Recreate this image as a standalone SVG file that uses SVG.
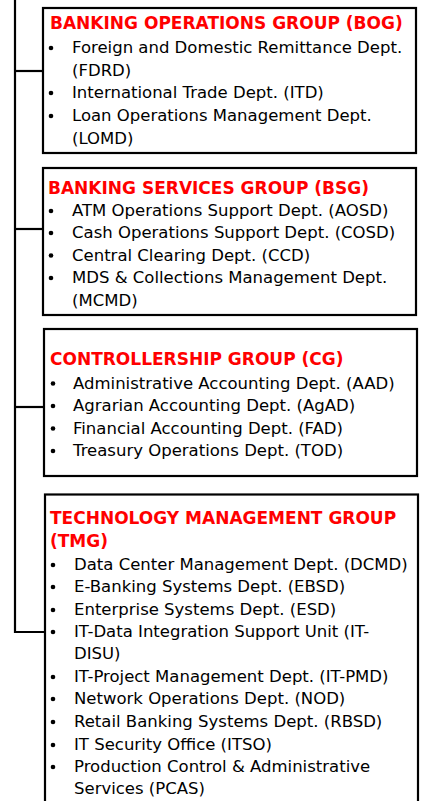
<svg xmlns="http://www.w3.org/2000/svg" width="425" height="801" viewBox="0 0 425 801">
<style>
.box{fill:#fff;stroke:#000;stroke-width:2.2}
.conn{fill:none;stroke:#000;stroke-width:2.2}
.t{font-family:"DejaVu Sans",Verdana,sans-serif;font-size:17px;font-weight:bold;fill:#ff0000}
.i{font-family:"DejaVu Sans",Verdana,sans-serif;font-size:16.5px;fill:#000}
.b{fill:#000}
</style>
<rect width="425" height="801" fill="#fff"/>
<g id="connectors">
<path class="conn" d="M15,0 V632 H45"/>
<path class="conn" d="M15,71 H43"/>
<path class="conn" d="M15,229 H43"/>
<path class="conn" d="M15,407 H44"/>
</g>
<g id="bog">
<rect class="box" x="43" y="8" width="373" height="145"/>
<text class="t" x="50" y="29">BANKING OPERATIONS GROUP (BOG)</text>
<circle class="b" cx="51" cy="48" r="2.3"/>
<text class="i" x="72" y="53">Foreign and Domestic Remittance Dept.</text>
<text class="i" x="72" y="75.5">(FDRD)</text>
<circle class="b" cx="51" cy="93" r="2.3"/>
<text class="i" x="72" y="98">International Trade Dept. (ITD)</text>
<circle class="b" cx="51" cy="116" r="2.3"/>
<text class="i" x="72" y="121">Loan Operations Management Dept.</text>
<text class="i" x="72" y="143.5">(LOMD)</text>
</g>
<g id="bsg">
<rect class="box" x="43" y="168" width="373" height="147"/>
<text class="t" x="48" y="193.5">BANKING SERVICES GROUP (BSG)</text>
<circle class="b" cx="51" cy="211" r="2.3"/>
<text class="i" x="72" y="216">ATM Operations Support Dept. (AOSD)</text>
<circle class="b" cx="51" cy="233" r="2.3"/>
<text class="i" x="72" y="238">Cash Operations Support Dept. (COSD)</text>
<circle class="b" cx="51" cy="255.5" r="2.3"/>
<text class="i" x="72" y="260.5">Central Clearing Dept. (CCD)</text>
<circle class="b" cx="51" cy="278" r="2.3"/>
<text class="i" x="72" y="283">MDS &amp; Collections Management Dept.</text>
<text class="i" x="72" y="306">(MCMD)</text>
</g>
<g id="cg">
<rect class="box" x="44" y="329" width="373" height="147"/>
<text class="t" x="50" y="364.5">CONTROLLERSHIP GROUP (CG)</text>
<circle class="b" cx="53" cy="383.5" r="2.3"/>
<text class="i" x="73" y="388.5">Administrative Accounting Dept. (AAD)</text>
<circle class="b" cx="53" cy="406" r="2.3"/>
<text class="i" x="73" y="411">Agrarian Accounting Dept. (AgAD)</text>
<circle class="b" cx="53" cy="428.5" r="2.3"/>
<text class="i" x="73" y="433.5">Financial Accounting Dept. (FAD)</text>
<circle class="b" cx="53" cy="451" r="2.3"/>
<text class="i" x="73" y="456">Treasury Operations Dept. (TOD)</text>
</g>
<g id="tmg">
<rect class="box" x="45" y="494.5" width="373" height="320"/>
<text class="t" x="50" y="523.5">TECHNOLOGY MANAGEMENT GROUP</text>
<text class="t" x="50" y="546.5">(TMG)</text>
<circle class="b" cx="53" cy="565" r="2.3"/>
<text class="i" x="74" y="570">Data Center Management Dept. (DCMD)</text>
<circle class="b" cx="53" cy="587" r="2.3"/>
<text class="i" x="74" y="592">E-Banking Systems Dept. (EBSD)</text>
<circle class="b" cx="53" cy="610" r="2.3"/>
<text class="i" x="74" y="615">Enterprise Systems Dept. (ESD)</text>
<circle class="b" cx="53" cy="632" r="2.3"/>
<text class="i" x="74" y="637">IT-Data Integration Support Unit (IT-</text>
<text class="i" x="74" y="659">DISU)</text>
<circle class="b" cx="53" cy="677" r="2.3"/>
<text class="i" x="74" y="682">IT-Project Management Dept. (IT-PMD)</text>
<circle class="b" cx="53" cy="699" r="2.3"/>
<text class="i" x="74" y="704">Network Operations Dept. (NOD)</text>
<circle class="b" cx="53" cy="722" r="2.3"/>
<text class="i" x="74" y="727">Retail Banking Systems Dept. (RBSD)</text>
<circle class="b" cx="53" cy="745" r="2.3"/>
<text class="i" x="74" y="750">IT Security Office (ITSO)</text>
<circle class="b" cx="53" cy="767" r="2.3"/>
<text class="i" x="74" y="772">Production Control &amp; Administrative</text>
<text class="i" x="74" y="794">Services (PCAS)</text>
</g>
</svg>
